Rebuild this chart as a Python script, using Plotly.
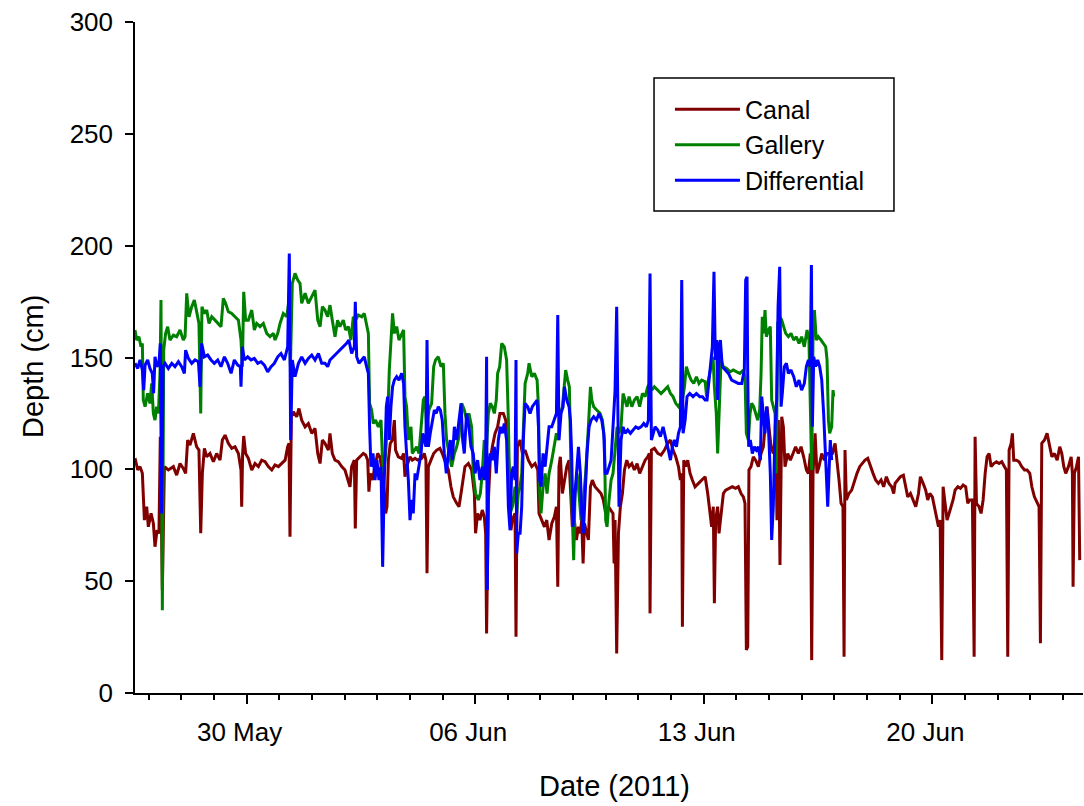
import pandas as pd
import plotly.graph_objects as go

START = pd.Timestamp("2011-05-26 00:00")

# Logger readings: (hours since START, depth in cm)
canal = [
    (14.0, 105), (16.0, 99.7), (17.7, 101.2), (19.4, 98.2), (20.9, 77.3), (22.6, 83.3), (23.8, 74.3),
    (25.8, 80.3), (27.5, 75.8), (28.7, 65.4), (30.2, 72.8), (31.6, 71.3), (32.6, 114.6), (34.1, 46.0),
    (35.6, 101.2), (38.5, 99.7), (42.2, 101.2), (44.6, 97.4), (47.1, 102.6), (49.5, 100.4), (51.2, 98.2),
    (52.7, 113.1), (54.4, 110.8), (56.9, 116.1), (59.3, 110.1), (61.0, 108.6), (62.3, 71.4), (63.5, 98.2),
    (65.0, 109.4), (66.7, 105.6), (69.1, 107.1), (71.6, 103.4), (74.0, 107.1), (76.5, 104.1), (78.2, 113.1),
    (80.2, 115.3), (82.6, 111.6), (85.1, 109.4), (87.5, 110.1), (90.0, 107.1), (91.9, 99.7), (92.4, 83.3),
    (93.1, 107.1), (93.9, 114.9), (95.3, 107.1), (97.3, 104.9), (99.8, 99.7), (102.2, 102.6), (104.7, 101.2),
    (107.1, 104.1), (109.6, 103.4), (112.0, 101.2), (114.5, 99.7), (116.9, 102.0), (119.4, 101.2),
    (121.8, 102.6), (124.3, 104.1), (126.2, 110.1), (127.2, 111.6), (127.9, 69.9), (128.9, 123.5),
    (130.4, 125.7), (132.8, 123.5), (134.5, 127.2), (136.5, 122.0), (139.0, 119.0), (141.4, 120.5),
    (143.9, 116.1), (146.3, 118.3), (148.3, 107.1), (150.0, 102.6), (151.7, 113.1),
    (153.6, 111.6), (156.1, 108.6), (157.3, 116.1), (159.0, 107.1), (161.0, 104.1), (163.4, 103.4),
    (165.9, 101.2), (168.3, 99.7), (170.3, 95.2), (172.0, 92.2), (173.2, 101.2), (175.2, 104.1), (175.9, 73.6),
    (176.9, 104.1), (179.3, 105.6), (181.8, 107.1), (183.5, 106.4), (185.0, 104.1), (185.9, 90.0), (186.9, 98.2),
    (188.4, 95.2), (190.4, 101.2), (192.3, 107.1), (194.0, 105.6), (195.7, 98.2), (197.2, 89.2), (198.2, 80.3),
    (199.2, 83.3), (200.2, 104.1), (201.6, 111.6), (203.1, 113.1), (204.6, 122.0), (205.5, 108.6),
    (207.5, 105.6), (210.0, 104.9), (211.4, 107.1), (212.4, 96.7), (213.6, 101.2), (216.1, 105.6),
    (217.8, 104.1), (219.8, 104.9), (221.7, 104.1), (224.7, 104.9), (226.6, 107.1), (227.8, 104.1),
    (228.6, 53.5), (229.6, 101.2), (231.5, 104.1), (233.5, 107.1), (235.7, 108.6), (238.1, 109.4),
    (239.8, 107.1), (241.8, 104.1), (244.3, 99.7), (246.2, 92.2), (247.9, 87.7), (250.4, 84.8), (252.1, 83.3),
    (253.6, 89.2), (254.5, 93.7), (256.5, 101.2), (259.0, 102.6), (261.4, 99.7), (263.4, 89.2), (264.3, 71.4),
    (265.8, 80.3), (267.5, 77.3), (269.2, 81.8), (270.7, 78.8), (271.7, 71.4), (272.4, 26.6), (273.7, 86.3),
    (275.1, 104.1), (276.6, 110.1), (278.6, 116.1), (280.5, 119.0), (282.2, 125.0), (284.7, 125.0),
    (286.4, 122.0), (287.9, 113.1), (289.1, 98.2), (290.3, 72.8), (291.3, 77.3), (293.3, 80.3),
    (294.0, 25.2), (295.0, 110.1), (297.0, 113.1), (298.7, 107.1), (300.7, 108.6), (303.1, 104.1),
    (305.6, 101.2), (308.0, 102.6), (310.0, 99.7), (310.9, 80.3), (312.9, 77.3), (314.9, 74.3), (316.6, 77.3),
    (318.3, 68.4), (320.3, 75.8), (322.2, 78.8), (323.7, 83.3), (324.7, 47.5), (325.6, 101.2), (326.6, 105.6),
    (328.1, 89.2), (329.6, 95.2), (331.3, 101.2), (333.0, 104.1), (334.5, 86.3), (335.4, 74.3), (336.9, 77.3),
    (338.4, 68.4), (339.9, 74.3), (341.3, 71.4), (342.3, 77.3), (343.3, 57.9), (344.3, 75.8), (345.7, 71.4),
    (347.2, 68.4), (348.7, 92.2), (350.1, 95.2), (352.1, 92.2), (354.6, 90.7), (356.5, 89.2), (358.2, 86.3),
    (359.9, 80.3), (361.9, 83.3), (363.9, 81.8), (365.3, 80.3), (366.1, 57.9), (366.8, 77.3), (368.0, 17.7),
    (369.3, 71.4), (370.7, 83.3), (372.2, 89.2), (373.7, 99.7), (375.4, 104.1), (377.1, 101.2), (379.1, 102.6),
    (381.0, 99.7), (383.0, 102.6), (384.9, 98.2), (386.9, 101.2), (388.9, 104.1), (390.8, 105.6), (392.0, 107.1),
    (392.5, 35.6), (393.5, 108.6), (395.7, 109.4), (398.2, 107.1), (400.6, 106.4), (403.1, 108.6),
    (405.5, 111.6), (407.5, 113.1), (409.4, 108.6), (411.4, 105.6), (413.4, 101.2), (414.8, 95.2),
    (415.8, 98.2), (416.3, 29.6), (417.3, 104.1), (418.7, 101.2), (420.2, 104.1), (421.9, 98.2), (423.6, 95.2),
    (425.6, 92.2), (428.1, 93.7), (430.5, 95.2), (433.0, 96.7),
    (434.9, 89.2), (436.6, 80.3), (437.8, 74.3), (439.0, 83.3), (439.8, 40.1), (440.7, 77.3), (442.2, 83.3),
    (443.2, 71.4), (444.7, 80.3), (446.4, 89.2), (448.1, 90.7), (450.5, 91.5), (453.0, 92.2), (455.4, 91.5),
    (457.4, 92.2), (459.4, 89.2), (461.1, 87.7), (462.3, 84.8), (463.3, 19.2), (464.3, 20.7), (465.2, 99.7),
    (466.7, 101.2), (468.4, 105.6), (470.1, 104.1), (472.1, 101.2), (474.1, 107.1), (475.8, 110.1),
    (477.0, 119.0), (478.5, 128.0), (479.9, 119.0), (481.4, 110.1), (483.1, 107.1), (484.8, 116.1),
    (485.8, 77.3), (486.8, 122.0), (488.0, 57.2), (489.3, 123.5), (490.5, 119.0), (491.7, 101.2),
    (493.7, 107.1), (495.6, 104.1), (497.6, 107.1), (499.5, 110.1), (501.5, 107.1), (503.5, 110.1),
    (505.4, 105.6), (507.4, 99.7), (508.9, 98.2), (510.3, 107.1), (511.3, 14.7), (512.3, 98.2), (513.8, 116.1),
    (515.2, 98.2), (516.7, 101.2), (518.7, 107.1), (520.6, 104.1), (522.6, 107.1), (524.5, 107.1),
    (526.5, 107.1), (528.5, 111.6), (529.9, 104.1), (531.4, 95.2), (532.9, 84.8), (534.3, 83.3), (535.1, 16.2),
    (535.8, 108.6), (536.8, 86.3), (538.7, 89.2), (540.7, 90.7), (542.7, 95.2), (544.6, 98.2), (546.6, 101.2),
    (548.5, 102.6), (550.5, 104.1), (552.5, 104.9), (554.4, 101.2), (556.4, 98.2), (558.3, 95.2),
    (560.3, 93.7), (562.3, 95.2), (564.2, 92.2), (566.2, 96.7), (568.1, 93.7), (570.1, 92.2), (571.6, 89.2),
    (572.6, 93.7),
    (574.6, 95.2), (576.5, 96.7), (578.7, 97.4), (580.4, 92.2), (581.9, 87.7), (583.9, 89.2), (585.8, 86.3),
    (587.8, 83.3), (589.8, 89.2), (591.2, 96.7), (593.2, 93.7), (595.1, 90.7), (596.6, 86.3), (598.1, 89.2),
    (600.0, 87.7), (601.5, 83.3), (603.0, 77.3), (604.5, 74.3), (605.7, 77.3), (606.9, 14.7), (607.9, 92.2),
    (609.4, 83.3), (610.8, 77.3), (612.3, 80.3), (613.8, 83.3), (615.2, 86.3), (616.7, 90.7), (618.7, 92.2),
    (620.6, 91.5), (622.6, 93.0), (624.5, 92.2), (626.0, 84.8), (627.5, 86.3), (629.4, 86.3), (630.7, 16.2),
    (631.4, 114.6), (632.4, 84.8), (634.3, 83.3), (635.8, 80.3), (637.3, 86.3), (638.8, 98.2), (640.2, 105.6),
    (641.7, 107.1), (643.2, 101.2), (645.1, 102.6), (647.1, 103.4), (649.0, 102.6), (651.0, 103.4),
    (653.0, 101.2), (654.4, 99.7), (655.4, 16.2), (656.4, 108.6), (657.9, 111.6), (658.8, 116.1),
    (659.8, 104.1), (661.8, 104.1), (663.7, 103.4), (665.7, 101.2), (667.7, 99.7), (669.6, 99.7),
    (671.6, 98.2), (673.1, 92.2), (675.0, 87.7), (677.0, 84.8), (678.4, 83.3), (679.4, 22.2), (680.4, 111.6),
    (682.4, 113.1), (684.3, 116.1), (686.3, 110.1), (687.8, 105.6), (689.7, 107.1), (691.7, 104.1),
    (693.6, 110.1), (695.1, 107.1), (696.6, 101.2), (698.0, 98.2), (700.0, 101.2), (702.0, 105.6),
    (702.9, 98.2), (703.4, 47.5), (704.4, 98.2), (705.9, 101.2), (707.4, 105.6), (708.3, 59.4),
]

gallery = [
    (14.0, 162.3), (15.2, 157.8), (16.9, 159.3), (18.4, 154.8), (19.4, 156.3), (20.1, 131.0), (21.4, 128.0),
    (23.3, 134.0), (25.0, 129.5), (26.3, 138.4), (27.5, 125.0), (28.7, 122.0), (29.9, 128.0), (31.2, 125.0),
    (32.4, 143.0), (33.1, 175.7), (34.1, 37.0), (35.1, 153.3), (36.5, 160.8), (38.0, 163.8), (39.7, 157.8),
    (42.2, 160.0), (44.6, 159.3), (47.1, 162.3), (49.5, 157.8), (50.8, 159.3), (52.0, 178.7), (53.7, 168.2),
    (55.7, 172.7), (57.6, 175.7), (59.3, 170.5), (61.0, 165.2), (62.3, 125.0), (63.2, 172.7), (65.0, 169.7),
    (66.7, 171.2), (68.4, 165.2), (70.4, 168.2), (72.8, 166.7), (75.3, 165.2), (77.2, 163.8), (78.9, 176.4),
    (80.6, 174.2), (82.6, 170.5), (85.1, 169.7), (87.5, 168.2), (90.0, 166.7), (91.9, 157.8), (92.9, 145.9),
    (93.9, 179.4), (95.3, 166.7), (97.3, 166.7), (99.8, 171.2), (101.7, 162.3), (103.4, 165.2), (105.9, 163.8),
    (108.3, 165.2), (110.8, 160.8), (113.2, 159.3), (115.7, 160.8), (116.9, 157.8), (118.9, 160.8),
    (120.6, 165.2), (123.0, 169.7), (125.5, 168.2), (127.2, 175.7), (128.2, 145.9), (129.6, 183.1),
    (131.6, 187.6), (133.6, 184.6), (135.3, 183.1), (136.5, 174.2), (139.0, 178.7), (141.4, 174.2),
    (143.9, 177.2), (146.3, 180.1), (148.3, 166.7), (150.0, 163.8), (151.7, 172.7),
    (153.6, 171.2), (155.6, 168.2), (157.3, 173.4), (159.0, 166.7), (161.0, 159.3), (162.9, 166.7),
    (164.6, 163.8), (167.1, 166.7), (168.8, 162.3), (170.8, 163.8), (172.7, 157.8), (174.4, 168.2),
    (176.1, 166.7), (178.1, 169.0), (180.6, 168.2), (182.5, 169.7), (184.2, 165.2), (185.5, 160.8),
    (186.4, 129.5), (187.9, 126.5), (189.1, 120.5), (190.8, 122.0), (192.8, 119.0), (194.8, 122.0),
    (195.7, 107.1), (196.7, 98.2), (198.2, 107.1), (199.7, 122.0), (200.9, 144.4), (202.1, 157.8),
    (203.3, 169.7), (204.6, 160.8), (206.3, 163.8), (208.0, 157.8), (210.0, 160.8), (211.4, 162.3),
    (212.4, 132.5), (213.6, 128.0), (214.9, 113.1), (216.8, 119.0), (217.8, 107.1), (219.3, 108.6),
    (221.0, 110.1), (222.7, 107.1), (224.2, 119.0), (225.9, 131.0), (227.1, 132.5), (228.3, 119.0),
    (230.0, 126.5), (232.0, 129.5), (233.5, 145.9), (234.9, 148.9), (236.9, 150.3), (238.9, 145.9),
    (240.6, 147.4), (241.8, 125.0), (243.0, 113.1), (244.7, 107.1), (246.7, 101.2), (248.7, 107.1),
    (250.4, 110.1), (252.1, 114.6), (254.1, 129.5), (256.0, 126.5), (257.7, 122.0), (259.4, 125.0),
    (261.4, 119.0), (262.6, 98.2), (264.3, 89.2), (266.3, 86.3), (267.8, 89.2), (269.2, 98.2), (270.7, 113.1),
    (272.4, 110.1), (273.7, 125.0), (275.1, 129.5), (276.6, 128.0), (278.1, 125.0), (279.5, 131.0),
    (280.5, 142.9), (282.0, 145.9), (283.5, 156.3), (285.4, 154.8), (287.1, 148.9), (288.4, 122.0),
    (289.6, 80.3), (291.3, 83.3), (293.3, 92.2),
    (294.5, 80.3), (295.7, 89.2), (297.0, 92.2), (298.2, 98.2), (299.4, 119.0), (300.7, 138.4), (302.6, 142.9),
    (303.6, 147.4), (305.6, 141.4), (307.5, 142.9), (309.5, 139.9), (310.5, 128.0), (311.4, 89.2),
    (312.4, 80.3), (313.9, 92.2), (315.4, 98.2), (316.8, 89.2), (318.3, 98.2), (320.3, 104.1), (322.2, 110.1),
    (323.7, 116.1), (325.2, 113.1), (326.6, 125.0), (328.1, 128.0), (329.6, 138.4), (330.5, 144.4),
    (332.0, 139.9), (333.2, 136.9), (334.5, 98.2), (335.4, 77.3), (336.4, 59.4), (337.4, 89.2), (338.9, 98.2),
    (340.3, 89.2), (341.8, 77.3), (343.5, 86.3), (345.2, 98.2), (347.2, 119.0), (348.7, 136.9), (349.7, 131.0),
    (351.1, 128.0), (353.3, 126.5), (355.8, 125.0), (357.5, 122.0), (359.0, 113.1), (359.9, 77.3),
    (360.9, 74.3), (362.4, 86.3), (363.9, 95.2), (365.3, 98.2), (366.8, 107.1), (368.3, 119.0), (369.7, 116.1),
    (371.2, 119.0), (372.7, 133.9), (374.2, 131.0), (375.6, 128.0), (377.1, 132.5), (379.1, 128.0),
    (381.0, 131.0), (383.0, 132.5), (384.9, 128.0), (386.9, 133.9), (388.9, 132.5), (390.8, 136.9),
    (392.3, 138.4), (393.8, 135.4), (395.7, 136.9), (398.2, 135.4), (400.6, 133.9), (403.1, 135.4),
    (405.5, 136.9), (407.5, 133.9), (409.4, 132.5), (411.4, 129.5), (413.4, 128.0), (414.8, 129.5),
    (416.3, 131.0), (417.8, 136.9), (419.2, 145.9), (420.7, 142.9), (422.7, 139.9), (424.6, 138.4),
    (426.6, 141.4), (428.5, 138.4), (430.5, 139.9), (433.0, 139.2),
    (434.1, 132.5), (435.4, 139.9), (437.3, 145.9), (438.8, 150.3), (439.8, 136.9), (441.2, 125.0),
    (442.2, 107.1), (443.2, 128.0), (444.7, 148.9), (446.4, 145.9), (448.8, 145.1), (451.3, 143.6),
    (453.7, 144.4), (456.2, 143.6), (458.6, 142.9), (461.1, 144.4), (462.3, 141.4), (463.3, 116.1),
    (464.8, 113.1), (466.0, 125.0), (467.2, 129.5), (468.7, 128.0), (470.1, 125.0), (471.6, 122.0),
    (473.1, 126.5), (474.1, 142.9), (475.0, 168.2), (476.0, 160.8), (477.0, 171.2), (478.0, 159.3),
    (479.5, 162.3), (480.9, 163.8), (481.9, 131.0), (483.1, 128.0), (484.4, 125.0), (485.3, 98.2),
    (486.3, 165.2), (487.8, 168.2), (489.3, 166.7), (490.7, 163.8), (492.2, 160.8), (494.2, 159.3),
    (496.1, 160.8), (498.1, 157.8), (500.0, 159.3), (502.0, 156.3), (503.9, 159.3), (505.9, 154.8),
    (507.9, 162.3), (509.3, 157.8), (510.8, 122.0), (511.3, 99.7), (512.3, 160.8), (513.3, 171.2),
    (514.7, 157.8), (516.2, 159.3), (518.2, 157.8), (520.1, 156.3), (521.6, 154.8), (522.6, 148.9),
    (523.6, 122.0), (524.5, 116.1), (526.0, 119.0), (527.0, 135.4), (527.5, 132.5),
]

differential = [
    (14.0, 147.4), (16.0, 145.1), (17.7, 148.9), (19.4, 144.4), (20.4, 135.4), (21.4, 146.6), (23.3, 148.9),
    (25.0, 145.1), (26.7, 142.9), (27.7, 134.0), (28.7, 150.3), (30.2, 145.9), (31.6, 147.4), (32.6, 156.3),
    (33.6, 80.3), (34.6, 145.9), (36.1, 147.4), (38.5, 145.1), (41.0, 147.4), (43.4, 145.9), (45.9, 148.1),
    (48.3, 145.9), (50.3, 142.9), (51.2, 153.3), (53.2, 149.6), (55.7, 147.4), (58.1, 148.9), (60.6, 148.1),
    (61.8, 136.9), (63.0, 156.3), (65.0, 150.3), (67.4, 151.1), (69.9, 148.9), (72.3, 147.4), (74.8, 148.9),
    (77.2, 145.9), (79.7, 150.3), (82.1, 147.4), (84.6, 142.9), (87.0, 148.9), (89.5, 146.6), (91.4, 145.9),
    (91.9, 136.9), (92.9, 154.8), (94.4, 148.9), (96.8, 150.3), (99.3, 148.9), (101.7, 149.6), (104.2, 147.4),
    (106.6, 148.1), (109.1, 146.6), (111.5, 143.6), (114.0, 145.9), (116.4, 147.4), (118.9, 150.3),
    (121.3, 151.8), (123.8, 148.9), (126.2, 154.8), (127.4, 196.5), (128.4, 113.1), (129.6, 148.9),
    (131.6, 141.4), (134.1, 147.4), (136.5, 150.3), (139.0, 147.4), (141.4, 149.6), (143.9, 151.1),
    (146.3, 148.9), (148.8, 151.8), (151.2, 147.4),
    (153.6, 147.4), (155.6, 145.9), (157.3, 148.9), (159.7, 150.3), (162.2, 151.8), (164.6, 153.3),
    (167.1, 154.8), (169.5, 156.3), (171.2, 157.8), (173.2, 151.8), (175.2, 154.8), (175.9, 174.9),
    (176.9, 150.3), (178.6, 147.4), (180.6, 148.9), (182.5, 150.3), (184.2, 145.9), (185.5, 142.9),
    (186.4, 119.0), (187.4, 101.2), (188.9, 107.1), (190.4, 95.2), (191.8, 104.1), (193.3, 95.2),
    (194.8, 101.2), (196.0, 56.4), (197.2, 95.2), (198.7, 128.0), (199.7, 132.5), (200.9, 113.1),
    (202.1, 128.0), (203.3, 136.9), (204.6, 139.9), (206.3, 141.4), (208.0, 139.9), (210.0, 142.9),
    (211.4, 138.4), (212.4, 119.0), (213.6, 107.1), (214.9, 95.2), (216.1, 77.3), (217.3, 86.3),
    (218.5, 80.3), (219.8, 98.2), (221.0, 95.2), (222.7, 101.2), (224.2, 107.1), (225.4, 116.1),
    (226.6, 113.1), (227.8, 110.1), (228.6, 157.8), (229.6, 110.1), (231.0, 116.1), (232.5, 122.0),
    (234.0, 126.5), (235.4, 125.0), (236.9, 128.0), (238.4, 126.5), (239.8, 122.0), (241.3, 107.1),
    (242.8, 98.2), (244.3, 107.1), (245.7, 113.1), (247.2, 104.1), (248.7, 119.0), (250.4, 113.1),
    (252.1, 122.0), (253.6, 129.5), (254.8, 113.1), (256.0, 107.1), (257.7, 125.0), (259.4, 119.0),
    (260.9, 110.1), (262.6, 107.1), (263.9, 98.2), (265.8, 104.1), (267.5, 95.2), (269.2, 101.2),
    (270.7, 95.2), (271.7, 104.1), (272.4, 150.3), (272.9, 46.0), (273.7, 98.2), (275.1, 107.1),
    (276.6, 104.1), (278.1, 110.1), (279.5, 98.2), (281.0, 113.1), (282.5, 119.0), (283.9, 116.1),
    (285.4, 120.5), (287.1, 113.1), (288.4, 83.3), (289.6, 72.8), (290.8, 98.2), (292.0, 101.2),
    (293.3, 95.2),
    (294.0, 148.9), (294.5, 62.4), (295.7, 71.4), (297.0, 71.4), (298.2, 83.3), (299.4, 113.1),
    (300.7, 129.5), (302.6, 128.0), (304.3, 125.0), (306.0, 128.0), (308.0, 129.5), (309.5, 131.0),
    (310.5, 119.0), (311.4, 95.2), (312.4, 92.2), (313.9, 107.1), (315.4, 101.2), (316.8, 110.1),
    (318.3, 119.0), (320.3, 119.0), (322.2, 122.0), (323.7, 125.0), (324.7, 169.0), (325.6, 113.1),
    (327.1, 125.0), (328.6, 128.0), (329.6, 136.9), (331.3, 131.0), (333.0, 128.0), (334.0, 122.0),
    (334.9, 107.1), (335.9, 74.3), (337.4, 89.2), (338.9, 104.1), (339.9, 110.1), (341.3, 98.2),
    (342.3, 80.3), (343.5, 71.4), (344.7, 89.2), (346.2, 107.1), (347.7, 119.0), (349.2, 122.0),
    (351.1, 123.5), (353.1, 122.0), (355.0, 125.0), (357.0, 122.0), (358.5, 116.1), (359.5, 98.2),
    (360.9, 98.2), (362.4, 101.2), (363.9, 104.1), (365.3, 119.0), (366.8, 135.4), (368.0, 172.7),
    (368.8, 113.1), (369.7, 83.3), (371.2, 113.1), (372.7, 119.0), (374.2, 116.1), (376.1, 117.6),
    (378.1, 116.1), (380.0, 117.6), (382.0, 119.0), (383.9, 118.3), (385.9, 119.0), (387.9, 120.5),
    (389.8, 119.0), (391.3, 122.0), (392.5, 187.6), (393.5, 113.1), (394.7, 116.1), (396.2, 119.0),
    (398.2, 117.6), (400.1, 114.6), (402.1, 119.0), (404.0, 113.1), (406.0, 108.6), (407.5, 104.1),
    (408.9, 110.1), (410.4, 113.1), (411.9, 110.1), (413.4, 116.1), (414.8, 119.0), (415.8, 184.6),
    (416.8, 116.1), (418.3, 122.0), (419.7, 132.5), (421.7, 133.9), (424.1, 132.5), (426.6, 133.9),
    (429.0, 132.5), (431.0, 132.5), (433.0, 131.0),
    (434.4, 131.0), (435.8, 139.9), (437.3, 151.8), (438.3, 154.8), (439.5, 188.3), (440.5, 148.9),
    (441.5, 157.8), (442.2, 131.0), (443.2, 154.8), (444.2, 157.8), (445.6, 145.9), (447.6, 144.4),
    (450.1, 142.9), (452.5, 139.9), (455.0, 139.2), (457.4, 138.4), (459.9, 138.4), (461.8, 144.4),
    (462.8, 184.6), (463.8, 186.1), (464.3, 142.9), (465.0, 110.1), (466.2, 113.1), (467.7, 107.1),
    (469.2, 110.1), (470.6, 108.6), (472.1, 110.1), (473.6, 104.1), (474.6, 132.5), (475.8, 125.0),
    (477.0, 116.1), (478.2, 128.0), (479.5, 119.0), (480.9, 98.2), (481.9, 68.4), (483.1, 83.3),
    (484.4, 119.0), (485.6, 131.0), (486.6, 172.7), (487.8, 190.6), (488.8, 128.0), (489.7, 133.9),
    (491.2, 145.9), (492.7, 147.4), (494.2, 142.9), (496.1, 144.4), (498.1, 141.4), (500.0, 136.9),
    (502.0, 139.9), (503.9, 135.4), (505.9, 138.4), (507.4, 145.9), (508.9, 148.9), (510.3, 145.9),
    (511.1, 191.4), (511.8, 119.0), (512.8, 150.3), (514.2, 145.9), (515.7, 148.9), (517.2, 145.9),
    (518.7, 139.9), (520.1, 125.0), (521.6, 107.1), (523.1, 83.3), (524.0, 98.2), (525.0, 113.1),
    (526.0, 104.1),
]

# Axis extent (hours since START) and labelled weeks
X_RANGE_HOURS = (14.0, 710.7)
MAJOR_TICKS = ["2011-05-30", "2011-06-06", "2011-06-13", "2011-06-20"]
MAJOR_LABELS = ["30 May", "06 Jun", "13 Jun", "20 Jun"]
Y_TICKS = [0, 50, 100, 150, 200, 250, 300]

SERIES = [
    ("Canal", canal, "#800000"),
    ("Gallery", gallery, "#008000"),
    ("Differential", differential, "#0000FF"),
]


def to_xy(points):
    hrs, depth = zip(*points)
    return START + pd.to_timedelta(list(hrs), unit="h"), list(depth)


FONT = "Arial, 'Liberation Sans', sans-serif"

fig = go.Figure()
for name, pts, color in SERIES:
    x, y = to_xy(pts)
    fig.add_trace(go.Scatter(x=x, y=y, mode="lines", name=name,
                             line=dict(color=color, width=3)))

x0 = START + pd.Timedelta(hours=X_RANGE_HOURS[0])
x1 = START + pd.Timedelta(hours=X_RANGE_HOURS[1])
daily = pd.date_range("2011-05-27", "2011-06-24", freq="D")

fig.update_layout(
    width=1084, height=806,
    margin=dict(l=135, r=1, t=22, b=113),
    plot_bgcolor="white", paper_bgcolor="white",
    font=dict(family=FONT, color="black"),
    showlegend=True,
    legend=dict(
        x=0.5643, y=0.904, xanchor="left", yanchor="top",
        font=dict(size=25, family=FONT, color="black"),
        bgcolor="rgba(0,0,0,0)", borderwidth=0,
        itemwidth=65, traceorder="normal",
    ),
    shapes=[dict(type="rect", xref="paper", yref="paper",
                 x0=0.5475, x1=0.8006, y0=0.7183, y1=0.9165,
                 line=dict(color="black", width=1.5), fillcolor="rgba(0,0,0,0)")],
    annotations=[
        dict(text="Depth (cm)", xref="paper", yref="paper", x=-0.1076, y=0.4873,
             xanchor="center", yanchor="middle", textangle=-90, showarrow=False,
             font=dict(size=29, family=FONT, color="black")),
        dict(text="Date (2011)", xref="paper", yref="paper", x=0.5053, y=-0.1386,
             xanchor="center", yanchor="middle", showarrow=False,
             font=dict(size=29, family=FONT, color="black")),
    ],
)

fig.update_xaxes(
    type="date", range=[x0, x1], automargin=False,
    showline=True, linecolor="black", linewidth=1.5, mirror=False,
    showgrid=False, zeroline=False,
    ticks="outside", ticklen=9, tickwidth=1.5, tickcolor="black",
    tickmode="array", tickvals=MAJOR_TICKS, ticktext=MAJOR_LABELS,
    tickfont=dict(size=26, family=FONT, color="black"),
    ticklabelstandoff=6, ticklabelshift=-7,
    minor=dict(tickmode="array", tickvals=list(daily), ticks="outside",
               ticklen=5, tickwidth=1.5, tickcolor="black", showgrid=False),
)
fig.update_yaxes(
    range=[0, 300], automargin=False,
    showline=True, linecolor="black", linewidth=1.5, mirror=False,
    showgrid=False, zeroline=False,
    ticks="outside", ticklen=8, tickwidth=1.5, tickcolor="black",
    tickmode="array", tickvals=Y_TICKS,
    tickfont=dict(size=26, family=FONT, color="black"), ticklabelstandoff=7,
)

fig.write_html("out.html")
